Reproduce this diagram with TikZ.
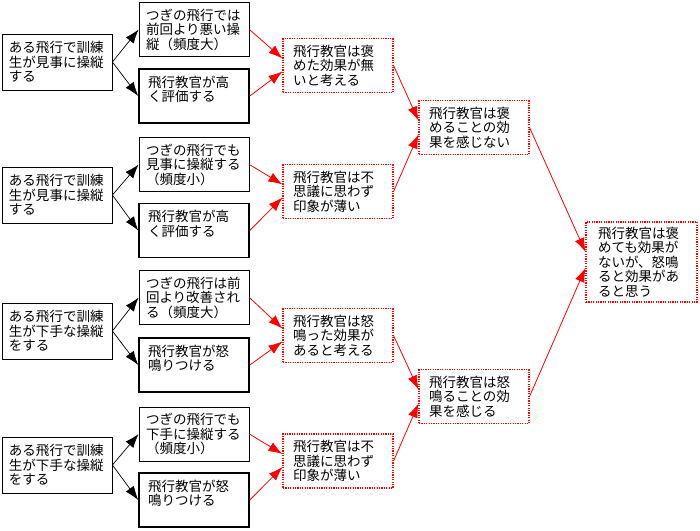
\documentclass[tikz,border=0pt]{standalone}
\usepackage{fontspec}
\setmainfont{Noto Sans CJK JP}
\usetikzlibrary{arrows.meta}

\tikzset{
    situation/.style={draw, line width=0.8pt, inner xsep=7pt, inner ysep=2pt, text width=96pt,
        minimum height=56pt, align=left, font=\fontsize{13.5}{14.5}\selectfont},
    reaction/.style={situation, line width=1.6pt, inner xsep=9pt, text width=92pt, minimum height=54pt},
    pensee/.style={situation, draw=red, dash pattern=on 1.2pt off 1.2pt, line width=1.1pt, inner xsep=10pt, text width=90pt, minimum height=54pt},
    fleche/.style={->, line width=0.7pt},
    fleche rouge/.style={->, red, line width=0.8pt}
}

\begin{document}
\begin{tikzpicture}[x=1pt, y=-1pt, >={Latex[length=14pt,width=10pt]}]
    \useasboundingbox (0,0) rectangle (700,530);

    % Premier groupe : éloge
    \node[situation] (L1) at (57,62) {ある飛行で訓練\\生が見事に操縦\\する};
    \node[situation, minimum height=54pt] (T1) at (194,29.5) {つぎの飛行では\\前回より悪い操\\縦（頻度大）};
    \node[reaction] (B1) at (194,96) {飛行教官が高\\く評価する\\\mbox{}};
    \node[pensee] (R1) at (338,65.5) {飛行教官は褒\\めた効果が無\\いと考える};

    % Deuxième groupe : éloge
    \node[situation] (L2) at (57,195) {ある飛行で訓練\\生が見事に操縦\\する};
    \node[situation, minimum height=54pt] (T2) at (194,164.5) {つぎの飛行でも\\見事に操縦する\\（頻度小）};
    \node[reaction] (B2) at (194,230.5) {飛行教官が高\\く評価する\\\mbox{}};
    \node[pensee] (R2) at (338,191.5) {飛行教官は不\\思議に思わず\\印象が薄い};

    % Troisième groupe : réprimande
    \node[situation] (L3) at (57,331) {ある飛行で訓練\\生が下手な操縦\\をする};
    \node[situation, minimum height=54pt] (T3) at (194,297.5) {つぎの飛行は前\\回より改善され\\る（頻度大）};
    \node[reaction] (B3) at (194,365) {飛行教官が怒\\鳴りつける\\\mbox{}};
    \node[pensee] (R3) at (338,335.5) {飛行教官は怒\\鳴った効果が\\あると考える};

    % Quatrième groupe : réprimande
    \node[situation] (L4) at (57,465) {ある飛行で訓練\\生が下手な操縦\\をする};
    \node[situation, minimum height=54pt] (T4) at (194,434) {つぎの飛行でも\\下手に操縦する\\（頻度小）};
    \node[reaction] (B4) at (194,500) {飛行教官が怒\\鳴りつける\\\mbox{}};
    \node[pensee] (R4) at (338,461) {飛行教官は不\\思議に思わず\\印象が薄い};

    % Conclusions
    \node[pensee] (M1) at (474,127.5) {飛行教官は褒\\めることの効\\果を感じない};
    \node[pensee] (M2) at (474,396.5) {飛行教官は怒\\鳴ることの効\\果を感じる};
    \node[pensee, inner xsep=12pt, text width=87pt, minimum height=80pt] (F) at (641.5,262)
        {飛行教官は褒\\めても効果が\\ないが、怒鳴\\ると効果があ\\ると思う};

    % Flèches noires
    \draw[fleche] (L1.east) -- (T1.west);
    \draw[fleche] (L1.east) -- (B1.west);
    \draw[fleche] (L2.east) -- (T2.west);
    \draw[fleche] (L2.east) -- (B2.west);
    \draw[fleche] (L3.east) -- (T3.west);
    \draw[fleche] (L3.east) -- (B3.west);
    \draw[fleche] (L4.east) -- (T4.west);
    \draw[fleche] (L4.east) -- (B4.west);

    % Flèches rouges
    \draw[fleche rouge] (T1.east) -- ([yshift=7pt]R1.west);
    \draw[fleche rouge] (B1.east) -- ([yshift=-6pt]R1.west);
    \draw[fleche rouge] (T2.east) -- ([yshift=7pt]R2.west);
    \draw[fleche rouge] (B2.east) -- ([yshift=-6pt]R2.west);
    \draw[fleche rouge] (T3.east) -- ([yshift=7pt]R3.west);
    \draw[fleche rouge] (B3.east) -- ([yshift=-6pt]R3.west);
    \draw[fleche rouge] (T4.east) -- ([yshift=7pt]R4.west);
    \draw[fleche rouge] (B4.east) -- ([yshift=-6pt]R4.west);

    \draw[fleche rouge] (R1.east) -- ([yshift=7pt]M1.west);
    \draw[fleche rouge] (R2.east) -- ([yshift=-7pt]M1.west);
    \draw[fleche rouge] (R3.east) -- ([yshift=7pt]M2.west);
    \draw[fleche rouge] (R4.east) -- ([yshift=-7pt]M2.west);

    \draw[fleche rouge] (M1.east) -- ([yshift=10pt]F.west);
    \draw[fleche rouge] (M2.east) -- ([yshift=-6pt]F.west);
\end{tikzpicture}
\end{document}
